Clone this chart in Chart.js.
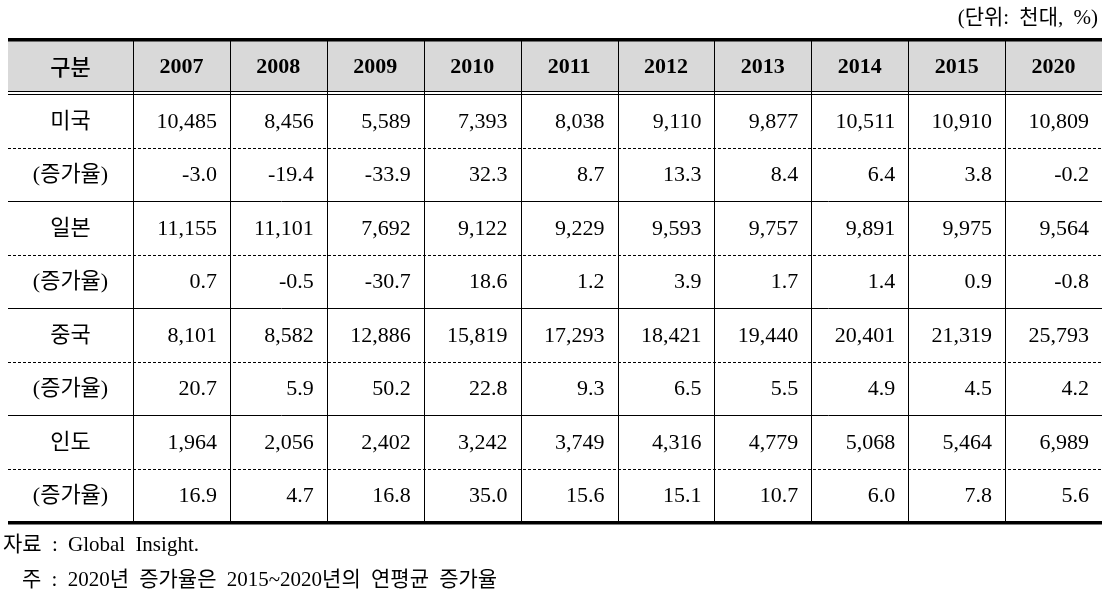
<!DOCTYPE html>
<html>
<head>
<meta charset="utf-8">
<script src="https://cdn.jsdelivr.net/npm/chart.js@4/dist/chart.umd.min.js"></script>
<style>
  body { margin: 0; background: #fff; }
</style>
</head>
<body>
<canvas id="myChart" width="1110" height="604"></canvas>
<script>
const years = ['2007', '2008', '2009', '2010', '2011', '2012', '2013', '2014', '2015', '2020']
const rowLabels = ['미국', '(증가율)', '일본', '(증가율)', '중국', '(증가율)', '인도', '(증가율)']

const usUnits = [10485, 8456, 5589, 7393, 8038, 9110, 9877, 10511, 10910, 10809]
const usGrowth = [-3.0, -19.4, -33.9, 32.3, 8.7, 13.3, 8.4, 6.4, 3.8, -0.2]
const jpUnits = [11155, 11101, 7692, 9122, 9229, 9593, 9757, 9891, 9975, 9564]
const jpGrowth = [0.7, -0.5, -30.7, 18.6, 1.2, 3.9, 1.7, 1.4, 0.9, -0.8]
const cnUnits = [8101, 8582, 12886, 15819, 17293, 18421, 19440, 20401, 21319, 25793]
const cnGrowth = [20.7, 5.9, 50.2, 22.8, 9.3, 6.5, 5.5, 4.9, 4.5, 4.2]
const inUnits = [1964, 2056, 2402, 3242, 3749, 4316, 4779, 5068, 5464, 6989]
const inGrowth = [16.9, 4.7, 16.8, 35.0, 15.6, 15.1, 10.7, 6.0, 7.8, 5.6]

const headerLabel = '구분'
const unitNote = '(단위: 천대, %)'
const sourceNote = '자료 : Global Insight.'
const footNote = '주 : 2020년 증가율은 2015~2020년의 연평균 증가율'

const rows = [usUnits, usGrowth, jpUnits, jpGrowth, cnUnits, cnGrowth, inUnits, inGrowth]

const FONT = "'Liberation Serif', 'Noto Sans CJK KR', serif"
const tableLeft = 8

const fmt = (v, r) => r % 2 === 0 ? v.toLocaleString('en-US') : v.toFixed(1)

const tablePlugin = {
    id: 'tablePlugin',
    beforeDraw(chart) {
        const { ctx, chartArea } = chart
        ctx.save()
        // header background
        ctx.fillStyle = '#d9d9d9'
        ctx.fillRect(tableLeft, 41, chartArea.right - tableLeft, chartArea.top - 44)
        ctx.restore()
    },
    afterDraw(chart) {
        const { ctx, chartArea, scales } = chart
        const x = scales.x
        const y = scales.y
        const right = chartArea.right
        const colW = x.getPixelForValue(1) - x.getPixelForValue(0)
        const rowH = y.getPixelForValue(1) - y.getPixelForValue(0)
        ctx.save()
        ctx.fillStyle = '#000'
        ctx.strokeStyle = '#000'

        // thick top and bottom rules
        ctx.fillRect(tableLeft, 38, right - tableLeft, 3.5)
        ctx.fillRect(tableLeft, chartArea.bottom - 1, right - tableLeft, 3.5)
        // double line under header
        ctx.fillRect(tableLeft, chartArea.top - 3, right - tableLeft, 1)
        ctx.fillRect(tableLeft, chartArea.top, right - tableLeft, 1)

        // row separators
        ctx.lineWidth = 1
        for (let r = 0; r < rowLabels.length - 1; r++) {
            const yy = Math.round(y.getPixelForValue(r) + rowH / 2) + 0.5
            ctx.setLineDash(r % 2 === 0 ? [3, 2] : [])
            ctx.beginPath()
            ctx.moveTo(tableLeft, yy)
            ctx.lineTo(right, yy)
            ctx.stroke()
        }
        ctx.setLineDash([])

        // column separators
        for (let i = 0; i < years.length; i++) {
            const xx = Math.round(x.getPixelForValue(i) - colW / 2) + 0.5
            ctx.beginPath()
            ctx.moveTo(xx, 41)
            ctx.lineTo(xx, chartArea.bottom - 1)
            ctx.stroke()
        }

        const headY = (41 + chartArea.top - 3) / 2 + 1
        ctx.textBaseline = 'middle'
        ctx.textAlign = 'center'

        // header
        ctx.font = "500 22px 'Noto Sans CJK KR', sans-serif"
        ctx.fillText(headerLabel, (tableLeft + chartArea.left) / 2, headY)
        ctx.font = 'bold 22px ' + FONT
        years.forEach((yr, i) => ctx.fillText(yr, x.getPixelForValue(i), headY))

        // row labels
        ctx.font = '22px ' + FONT
        rowLabels.forEach((lab, r) => ctx.fillText(lab, (tableLeft + chartArea.left) / 2, y.getPixelForValue(r) + 1))

        // cell values
        ctx.textAlign = 'right'
        chart.data.datasets.forEach((ds, r) => {
            const meta = chart.getDatasetMeta(r)
            meta.data.forEach((pt, i) => {
                ctx.fillText(fmt(ds.data[i].v, r), pt.x + colW / 2 - 13, pt.y + 1)
            })
        })

        // notes
        ctx.font = '21px ' + FONT
        ctx.wordSpacing = '5px'
        ctx.fillText(unitNote, 1098, 18)
        ctx.textAlign = 'left'
        ctx.fillText(sourceNote, 3, 545)
        ctx.fillText(footNote, 22, 580)
        ctx.restore()
    }
}

const ctx = document.getElementById('myChart')

new Chart(ctx, {
    type: 'scatter',
    data: {
        datasets: rows.map((vals, r) => ({
            label: rowLabels[r],
            data: vals.map((v, i) => ({ x: i, y: r, v: v })),
            pointRadius: 0,
            pointHoverRadius: 0
        }))
    },
    options: {
        responsive: false,
        animation: false,
        layout: {
            padding: { left: 133, top: 94, right: 8, bottom: 82 }
        },
        plugins: {
            legend: { display: false },
            tooltip: { enabled: false }
        },
        scales: {
            x: {
                type: 'linear',
                min: -0.5,
                max: years.length - 0.5,
                display: false
            },
            y: {
                type: 'linear',
                min: -0.5,
                max: rowLabels.length - 0.5,
                reverse: true,
                display: false
            }
        }
    },
    plugins: [tablePlugin]
})
</script>
</body>
</html>
